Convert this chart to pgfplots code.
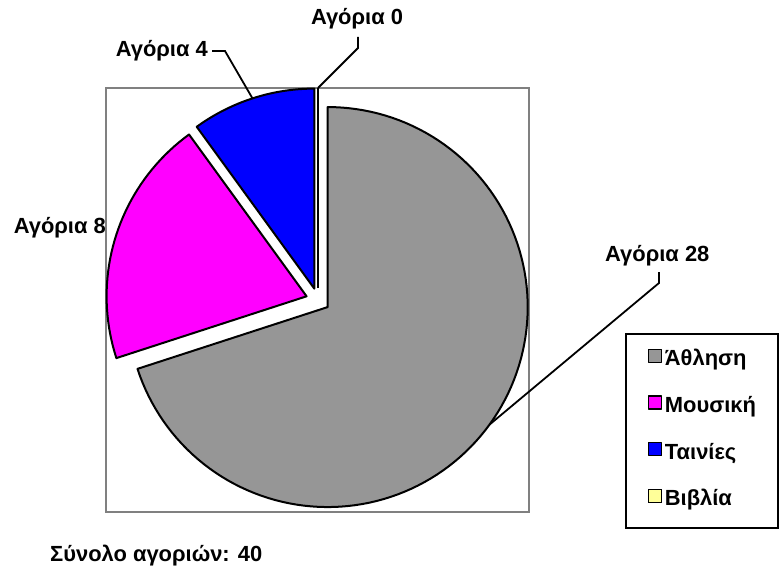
\documentclass[border=0pt]{standalone}
\usepackage{fontspec}
\setmainfont{Liberation Sans}
\usepackage{pgfplots}
\usepackage{pgfplotstable}
\pgfplotsset{compat=1.18}
\definecolor{slicegray}{HTML}{969696}
\definecolor{slicemag}{HTML}{FF00FF}
\definecolor{sliceblue}{HTML}{0000FF}
\definecolor{sliceyellow}{HTML}{FFFF99}
\definecolor{framegray}{HTML}{808080}

\pgfplotstableread{
name value
Athlisi 28
Mousiki 8
Tainies 4
Vivlia 0
}\piedata

\newcommand\lblfont{\fontsize{22}{24}\selectfont\bfseries}

\begin{document}
\begin{tikzpicture}
\pgfplotstablegetelem{0}{value}\of\piedata\let\vA\pgfplotsretval
\pgfplotstablegetelem{1}{value}\of\piedata\let\vB\pgfplotsretval
\pgfplotstablegetelem{2}{value}\of\piedata\let\vC\pgfplotsretval
\pgfplotstablegetelem{3}{value}\of\piedata\let\vD\pgfplotsretval
\pgfmathsetmacro\tot{\vA+\vB+\vC+\vD}
\pgfmathsetmacro\sA{90}
\pgfmathsetmacro\eA{\sA-360*\vA/\tot}
\pgfmathsetmacro\eB{\eA-360*\vB/\tot}
\pgfmathsetmacro\eC{\eB-360*\vC/\tot}
\pgfmathsetmacro\eD{\eC-360*\vD/\tot}
\pgfmathsetmacro\mA{(\sA+\eA)/2}
\pgfmathsetmacro\mB{(\eA+\eB)/2}
\pgfmathsetmacro\mC{(\eB+\eC)/2}
\pgfmathsetmacro\mD{(\eC+\eD)/2}
% pie centre, radius, explosion (pixel units, y downwards)
\def\cx{318}\def\cy{300}\def\R{200}\def\ex{12}
\pgfmathsetmacro\xA{\cx+\ex*cos(\mA)}\pgfmathsetmacro\yA{\cy-\ex*sin(\mA)}
\pgfmathsetmacro\xB{\cx+\ex*cos(\mB)}\pgfmathsetmacro\yB{\cy-\ex*sin(\mB)}
\pgfmathsetmacro\xC{\cx+\ex*cos(\mC)}\pgfmathsetmacro\yC{\cy-\ex*sin(\mC)}
\pgfmathsetmacro\xD{\cx+\ex*cos(\mD)}\pgfmathsetmacro\yD{\cy-\ex*sin(\mD)}
\pgfmathsetmacro\pxD{\xD+\R*cos(\mD)}\pgfmathsetmacro\pyD{\yD-\R*sin(\mD)}
% leader anchor points (middle of each arc)
\pgfmathsetmacro\lAx{\xA+\R*cos(\mA)}\pgfmathsetmacro\lAy{\yA-\R*sin(\mA)}
\pgfmathsetmacro\lCx{\xC+\R*cos(\mC)}\pgfmathsetmacro\lCy{\yC-\R*sin(\mC)}
\begin{axis}[
  scale only axis, width=780bp, height=573bp,
  xmin=0, xmax=780, ymin=0, ymax=573, y dir=reverse,
  hide axis, clip=false,
  legend cell align=left,
  legend image code/.code={\draw[#1,draw=black,line width=1.4bp] (0bp,0.5bp) rectangle (13bp,13.5bp);},
  legend style={at={(axis description cs:0.80128,0.41885)}, anchor=north west,
    draw=black, line width=2bp, fill=white,
    font=\lblfont, inner xsep=22bp, inner ysep=14.5bp, row sep=22bp, column sep=2.5bp,
    nodes={inner sep=0pt, text height=13.5bp, text depth=7.5bp}},
]
\path (axis cs:0,0) rectangle (axis cs:780,573);
\draw[framegray, line width=2.2bp] (axis cs:106,88) rectangle (axis cs:529,512);

\addplot[fill=slicegray, draw=black, line width=2bp, line join=round,
  domain=\eA:\sA, samples=121, variable=\t]
  ({\xA+\R*cos(\t)}, {\yA-\R*sin(\t)}) -- (axis cs:\xA,\yA) -- cycle;
\addplot[fill=slicemag, draw=black, line width=2bp, line join=round,
  domain=\eB:\eA, samples=41, variable=\t]
  ({\xB+\R*cos(\t)}, {\yB-\R*sin(\t)}) -- (axis cs:\xB,\yB) -- cycle;
\addplot[fill=sliceblue, draw=black, line width=2bp, line join=round,
  domain=\eC:\eB, samples=25, variable=\t]
  ({\xC+\R*cos(\t)}, {\yC-\R*sin(\t)}) -- (axis cs:\xC,\yC) -- cycle;
\addplot[fill=sliceyellow, draw=black, line width=2bp]
  coordinates {(\xD,\yD) (\pxD,\pyD)};
\legend{Άθληση,Μουσική,Ταινίες,Βιβλία}

% leader lines
\draw[black, line width=1.8bp] (axis cs:\pxD,\pyD) -- (axis cs:358,48) -- (axis cs:358,37);
\draw[black, line width=1.8bp] (axis cs:\lCx,\lCy) -- (axis cs:225,51) -- (axis cs:212,51);
\draw[black, line width=1.8bp] (axis cs:\lAx,\lAy) -- (axis cs:659,283) -- (axis cs:659,272);

% data labels
\node[anchor=base, inner sep=0pt, font=\lblfont] at (axis cs:357,25) {Αγόρια 0};
\node[anchor=base east, inner sep=0pt, font=\lblfont] at (axis cs:208,57) {Αγόρια 4};
\node[anchor=base east, inner sep=0pt, font=\lblfont] at (axis cs:106,233) {Αγόρια 8};
\node[anchor=base west, inner sep=0pt, font=\lblfont] at (axis cs:605,261) {Αγόρια 28};
\node[anchor=base west, inner sep=0pt, font=\lblfont] at (axis cs:50,561) {Σύνολο αγοριών: 40};
\end{axis}
\end{tikzpicture}
\end{document}
